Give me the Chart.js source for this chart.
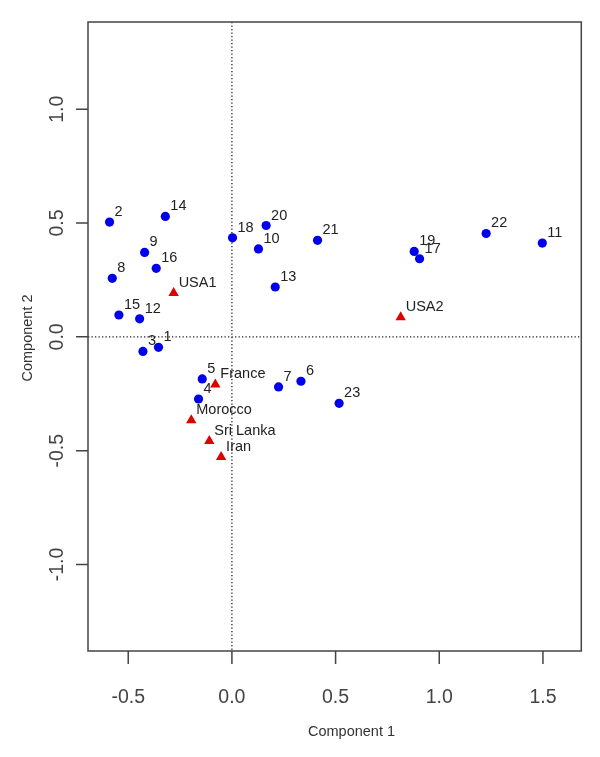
<!DOCTYPE html>
<html>
<head>
<meta charset="utf-8">
<script src="https://cdn.jsdelivr.net/npm/chart.js@4/dist/chart.umd.min.js"></script>
<style>
  body { margin: 0; background: #fff; }
  #chart { display: block; }
</style>
</head>
<body>
<canvas id="chart" width="600" height="757"></canvas>
<script>
// numbered observations
const pointIds = ['1', '2', '3', '4', '5', '6', '7', '8', '9', '10', '11', '12',
                  '13', '14', '15', '16', '17', '18', '19', '20', '21', '22', '23'];
const comp1 = [-0.354, -0.590, -0.429, -0.161, -0.143, 0.333, 0.225, -0.577, -0.421, 0.128, 1.497, -0.445,
               0.209, -0.321, -0.545, -0.365, 0.905, 0.003, 0.879, 0.165, 0.413, 1.226, 0.517];
const comp2 = [-0.046, 0.504, -0.064, -0.273, -0.185, -0.195, -0.220, 0.257, 0.371, 0.386, 0.412, 0.079,
               0.219, 0.529, 0.096, 0.301, 0.343, 0.435, 0.375, 0.489, 0.424, 0.454, -0.292];

// countries (red triangles)
const countries = ['USA1', 'USA2', 'France', 'Morocco', 'Sri Lanka', 'Iran'];
const countryComp1 = [-0.281, 0.814, -0.080, -0.196, -0.109, -0.052];
const countryComp2 = [0.193, 0.086, -0.209, -0.366, -0.458, -0.528];

const xTicks = [-0.5, 0.0, 0.5, 1.0, 1.5];
const yTicks = [-1.0, -0.5, 0.0, 0.5, 1.0];
const xTitle = 'Component 1';
const yTitle = 'Component 2';

const FONT = '"Liberation Sans", Arial, sans-serif';

const toXY = (xs, ys) => xs.map((x, i) => ({ x: x, y: ys[i] }));

const axesPlugin = {
    id: 'rAxes',
    beforeDatasetsDraw(chart) {
        const { ctx, chartArea: a, scales } = chart;
        const x0 = scales.x.getPixelForValue(0);
        const y0 = scales.y.getPixelForValue(0);
        ctx.save();
        ctx.strokeStyle = '#222';
        ctx.lineWidth = 1.3;
        ctx.setLineDash([1.3, 2.2]);
        ctx.beginPath();
        ctx.moveTo(x0, a.top);
        ctx.lineTo(x0, a.bottom);
        ctx.moveTo(a.left, y0);
        ctx.lineTo(a.right, y0);
        ctx.stroke();
        ctx.restore();
    },
    afterDraw(chart) {
        const { ctx, chartArea: a, scales } = chart;
        ctx.save();

        // box
        ctx.strokeStyle = '#444';
        ctx.lineWidth = 1.5;
        ctx.strokeRect(a.left, a.top, a.right - a.left, a.bottom - a.top);

        // ticks
        ctx.beginPath();
        xTicks.forEach(v => {
            const px = scales.x.getPixelForValue(v);
            ctx.moveTo(px, a.bottom);
            ctx.lineTo(px, a.bottom + 13);
        });
        yTicks.forEach(v => {
            const py = scales.y.getPixelForValue(v);
            ctx.moveTo(a.left, py);
            ctx.lineTo(a.left - 12, py);
        });
        ctx.stroke();

        // tick labels
        ctx.fillStyle = '#444';
        ctx.font = '19.5px ' + FONT;
        ctx.textAlign = 'center';
        ctx.textBaseline = 'alphabetic';
        xTicks.forEach(v => {
            ctx.fillText(v.toFixed(1), scales.x.getPixelForValue(v), 703);
        });
        yTicks.forEach(v => {
            ctx.save();
            ctx.translate(62.5, scales.y.getPixelForValue(v));
            ctx.rotate(-Math.PI / 2);
            ctx.fillText(v.toFixed(1), 0, 0);
            ctx.restore();
        });

        // axis titles
        ctx.fillStyle = '#333';
        ctx.font = '14.5px ' + FONT;
        ctx.fillText(xTitle, 351.5, 736);
        ctx.save();
        ctx.translate(32, 338);
        ctx.rotate(-Math.PI / 2);
        ctx.fillText(yTitle, 0, 0);
        ctx.restore();

        // point labels
        ctx.fillStyle = '#222';
        ctx.textAlign = 'left';
        const labelSets = [pointIds, countries];
        labelSets.forEach((labels, di) => {
            const meta = chart.getDatasetMeta(di);
            meta.data.forEach((pt, i) => {
                ctx.fillText(labels[i], pt.x + 5, pt.y - 6);
            });
        });

        ctx.restore();
    }
};

new Chart(document.getElementById('chart'), {
    type: 'scatter',
    data: {
        datasets: [{
            label: 'observations',
            data: toXY(comp1, comp2),
            pointStyle: 'circle',
            pointRadius: 4.6,
            pointHoverRadius: 4.6,
            backgroundColor: '#0000ee',
            borderWidth: 0
        }, {
            label: 'countries',
            data: toXY(countryComp1, countryComp2),
            pointStyle: 'triangle',
            pointRadius: 6,
            pointHoverRadius: 6,
            backgroundColor: '#e00000',
            borderWidth: 0
        }]
    },
    options: {
        responsive: false,
        animation: false,
        events: [],
        layout: {
            padding: { left: 88, top: 22, right: 18.7, bottom: 106 }
        },
        scales: {
            x: { type: 'linear', min: -0.694, max: 1.685, display: false },
            y: { type: 'linear', min: -1.38, max: 1.383, display: false }
        },
        plugins: {
            legend: { display: false },
            tooltip: { enabled: false }
        }
    },
    plugins: [axesPlugin]
});
</script>
</body>
</html>
